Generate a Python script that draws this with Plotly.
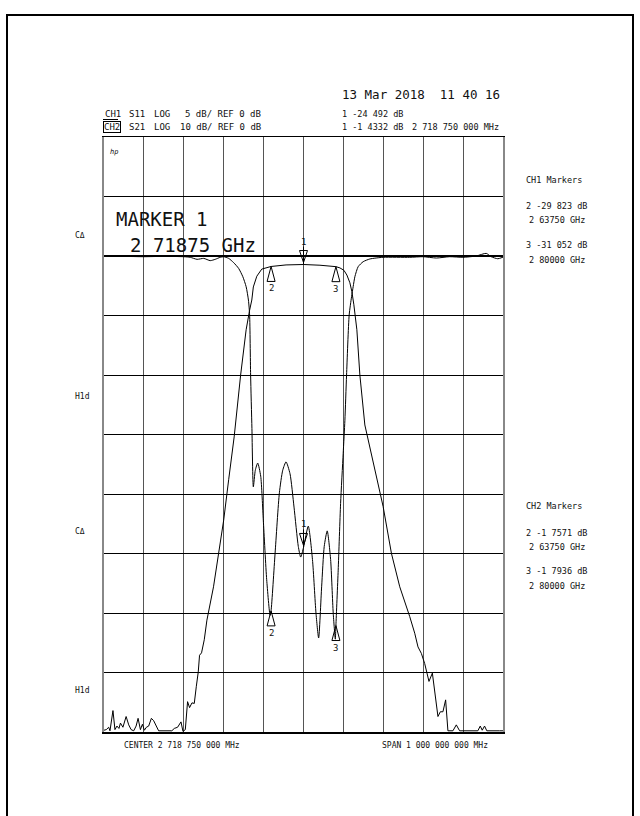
import plotly.graph_objects as go

# ---------------- data (GHz, dB) ----------------
# CH1: S11, LOG 5 dB/div, REF 0 dB
s11_freq = [2.21875, 2.2687, 2.3187, 2.3687, 2.4187, 2.4350, 2.4520, 2.4687, 2.4850, 2.4975,
            2.5100, 2.5187, 2.5312, 2.5437, 2.5562, 2.5667, 2.5750, 2.5807, 2.5837, 2.5862,
            2.5895, 2.5930, 2.5980, 2.6040, 2.6115, 2.6180, 2.6265, 2.6350, 2.6375, 2.6475,
            2.6583, 2.6667, 2.6750, 2.6850, 2.6950, 2.7057, 2.7117, 2.71875, 2.7307, 2.7412,
            2.7500, 2.7567, 2.7642, 2.7707, 2.7782, 2.7867, 2.7932, 2.7985, 2.8000, 2.8057,
            2.8117, 2.8182, 2.8225, 2.8267, 2.8332, 2.8392, 2.8432, 2.8475, 2.8557, 2.8683,
            2.8850, 2.9183, 2.9850, 3.0183, 3.0517, 3.0850, 3.1183, 3.1517, 3.1767, 3.1892,
            3.2057, 3.21875]
s11_db = [0.0, -0.03, -0.06, -0.03, -0.06, -0.11, -0.28, -0.20, -0.39, -0.28,
          -0.11, -0.06, -0.20, -0.56, -1.04, -1.74, -2.58, -3.70, -4.96, -10.0,
          -14.5, -19.4, -18.0, -17.4, -18.5, -22.2, -27.2, -30.2, -29.8, -25.0,
          -19.9, -18.0, -17.3, -18.3, -21.1, -24.4, -25.3, -24.5, -22.7, -25.5,
          -30.0, -32.1, -27.8, -24.4, -23.1, -25.5, -30.0, -32.2, -31.05, -26.4,
          -20.8, -16.6, -13.8, -10.0, -4.96, -3.42, -2.58, -1.74, -0.90, -0.48,
          -0.25, -0.11, -0.11, -0.06, -0.17, -0.06, -0.11, 0.0, 0.22, -0.06,
          -0.23, -0.10]

# CH2: S21, LOG 10 dB/div, REF 0 dB
s21_freq = [2.21875, 2.2245, 2.2305, 2.2337, 2.2412, 2.2462, 2.2512, 2.2562, 2.2600, 2.2662,
            2.2742, 2.2807, 2.2867, 2.2932, 2.2992, 2.3042, 2.3100, 2.3150, 2.3200, 2.3250,
            2.3307, 2.3375, 2.3432, 2.3500, 2.3557, 2.3887, 2.3950, 2.4032, 2.4117, 2.4167,
            2.4225, 2.4282, 2.4332, 2.4392, 2.4450, 2.4500, 2.4550, 2.4582, 2.4632, 2.4700,
            2.4767, 2.4932, 2.5057, 2.5187, 2.5312, 2.5450, 2.5612, 2.5750, 2.5837, 2.5892,
            2.5930, 2.6017, 2.6142, 2.6375, 2.6750, 2.71875, 2.7600, 2.8000, 2.8100, 2.8200,
            2.8275, 2.8350, 2.8400, 2.8450, 2.8525, 2.8600, 2.8725, 2.8850, 2.9017, 2.9183,
            2.9392, 2.9600, 2.9850, 2.9975, 3.0057, 3.0142, 3.0225, 3.0282, 3.0332, 3.0417,
            3.0475, 3.0557, 3.0617, 3.0682, 3.0750, 3.0807, 3.0932, 3.1017, 3.1100, 3.1557,
            3.1617, 3.1667, 3.1725, 3.1782, 3.2100, 3.21875]
s21_db = [-79.7, -79.6, -79.2, -79.8, -76.4, -79.6, -79.0, -79.4, -78.5, -79.2,
          -77.4, -78.8, -79.6, -79.8, -79.0, -77.7, -79.6, -78.7, -79.7, -79.2,
          -79.0, -77.7, -78.1, -79.2, -79.8, -79.8, -79.4, -79.2, -78.3, -79.9,
          -79.6, -74.9, -75.9, -75.1, -75.2, -72.4, -69.9, -67.1, -66.7, -64.5,
          -61.2, -55.6, -50.0, -44.4, -37.6, -30.4, -20.0, -12.4, -9.1, -7.4,
          -5.2, -3.4, -2.2, -1.76, -1.50, -1.43, -1.55, -1.79, -2.0, -2.4,
          -3.2, -4.5, -6.0, -8.2, -12.4, -20.0, -28.4, -32.0, -37.1, -42.1,
          -50.0, -55.6, -60.6, -63.4, -65.7, -66.8, -68.5, -69.9, -71.5, -70.1,
          -72.9, -77.4, -76.6, -76.6, -74.6, -79.8, -79.8, -78.8, -79.8, -79.8,
          -79.0, -79.7, -79.0, -79.8, -79.8, -79.8]

marker_ids = ["1", "2", "3"]
marker_freq = [2.71875, 2.6375, 2.8]
s11_marker_db = [-24.492, -29.823, -31.052]
s21_marker_db = [-1.4332, -1.7571, -1.7936]

center_ghz = 2.71875
span_ghz = 1.0

# ---------------- layout geometry ----------------
W, H = 640, 816
L, R, T, B = 104, 503, 137, 732
MONO = "DejaVu Sans Mono"
INK = "#111"


def px(xp):
    return (xp - L) / (R - L)


def py(yp):
    return (B - yp) / (B - T)


fig = go.Figure()
fig.add_trace(go.Scatter(x=s11_freq, y=s11_db, mode="lines", yaxis="y",
                         line=dict(color="black", width=1, shape="spline", smoothing=0.6),
                         hoverinfo="skip", showlegend=False))
fig.add_trace(go.Scatter(x=s21_freq, y=s21_db, mode="lines", yaxis="y2",
                         line=dict(color="black", width=1),
                         hoverinfo="skip", showlegend=False))

annotations = []
shapes = []


def text(xp, yp, s, size=9, anchor="left", **kw):
    annotations.append(dict(x=px(xp), y=py(yp), xref="paper", yref="paper", text=s,
                            showarrow=False, xanchor=anchor, yanchor="middle",
                            font=dict(family=MONO, size=size, color=INK), **kw))


# header
text(340, 94, "13 Mar 2018  11 40 16", size=12.5)
text(103, 114, "CH1", size=9)
shapes.append(dict(type="line", xref="paper", yref="paper", x0=px(103), x1=px(118),
                   y0=py(119.5), y1=py(119.5), line=dict(color="black", width=1)))
text(127, 114, "S11", size=9)
text(152, 114, "LOG", size=9)
text(263, 114, "5 dB/ REF 0 dB", size=9, anchor="right")
text(340, 114, "1 -24 492 dB", size=8.5)
text(103, 127, "CH2", size=9, bordercolor="black", borderwidth=1, borderpad=0)
text(127, 127, "S21", size=9)
text(152, 127, "LOG", size=9)
text(263, 127, "10 dB/ REF 0 dB", size=9, anchor="right")
text(340, 127, "1 -1 4332 dB", size=8.5)
text(501, 127, "2 718 750 000 MHz", size=8.5, anchor="right")

# hp logo
text(108, 152, "<i>hp</i>", size=7)

# big marker text
text(114, 219, "MARKER 1", size=19)
text(128, 245, "2 71875 GHz", size=19)

# left status labels
text(73, 236, "CΔ", size=8)
text(73, 396, "H1d", size=8)
text(73, 531, "CΔ", size=8)
text(73, 690, "H1d", size=8)

# right marker tables
text(524, 180, "CH1 Markers", size=8.5)
text(524, 206, "2 -29 823 dB", size=8.5)
text(527, 220, "2 63750 GHz", size=8.5)
text(524, 245, "3 -31 052 dB", size=8.5)
text(527, 260, "2 80000 GHz", size=8.5)
text(524, 506, "CH2 Markers", size=8.5)
text(524, 533, "2 -1 7571 dB", size=8.5)
text(527, 547, "2 63750 GHz", size=8.5)
text(524, 571, "3 -1 7936 dB", size=8.5)
text(527, 586, "2 80000 GHz", size=8.5)

# bottom labels
text(122, 745, "CENTER 2 718 750 000 MHz", size=8)
text(380, 745, "SPAN 1 000 000 000 MHz", size=8)

# outer frame
shapes.append(dict(type="rect", xref="paper", yref="paper", x0=px(7), x1=px(633),
                   y0=py(840), y1=py(15), line=dict(color="black", width=2),
                   fillcolor="rgba(0,0,0,0)", layer="above"))

# reference position triangles (0 dB)
x_lo = center_ghz - span_ghz / 2
x_hi = center_ghz + span_ghz / 2
shapes.append(dict(type="path", xref="x", yref="y", xsizemode="pixel", ysizemode="pixel",
                   xanchor=x_lo, yanchor=0, path="M -6 3 L -6 -3 L -1 0 Z",
                   line=dict(color="black", width=1)))
shapes.append(dict(type="path", xref="x", yref="y", xsizemode="pixel", ysizemode="pixel",
                   xanchor=x_hi, yanchor=0, path="M 6 3 L 6 -3 L 1 0 Z",
                   line=dict(color="black", width=1)))


def marker(mid, f, v, yref):
    if mid == "1":
        # pointing down, above the trace
        shapes.append(dict(type="path", xref="x", yref=yref, xsizemode="pixel", ysizemode="pixel",
                           xanchor=f, yanchor=v, path="M -4 14 L 4 14 L 0 2 Z M 0 0 L 0 18",
                           line=dict(color="black", width=1)))
        annotations.append(dict(x=f, y=v, xref="x", yref=yref, text=mid, showarrow=False,
                                yshift=23, xanchor="center", yanchor="middle",
                                font=dict(family=MONO, size=9, color=INK)))
    else:
        shapes.append(dict(type="path", xref="x", yref=yref, xsizemode="pixel", ysizemode="pixel",
                           xanchor=f, yanchor=v, path="M -4 -15 L 4 -15 L 0 0 Z",
                           line=dict(color="black", width=1)))
        annotations.append(dict(x=f, y=v, xref="x", yref=yref, text=mid, showarrow=False,
                                yshift=-22, xanchor="center", yanchor="middle",
                                font=dict(family=MONO, size=9, color=INK)))


for mid, f, v in zip(marker_ids, marker_freq, s21_marker_db):
    marker(mid, f, v, "y2")
for mid, f, v in zip(marker_ids, marker_freq, s11_marker_db):
    marker(mid, f, v, "y")

fig.update_layout(
    width=W, height=H,
    margin=dict(l=L, r=W - R, t=T, b=H - B, pad=0),
    paper_bgcolor="white", plot_bgcolor="white",
    showlegend=False,
    xaxis=dict(range=[x_lo, x_hi], tick0=x_lo, dtick=span_ghz / 10, showticklabels=False,
               ticks="", showgrid=True, gridcolor="#555", gridwidth=1, zeroline=False,
               showline=True, mirror=True, linecolor="black", linewidth=1.5),
    yaxis=dict(range=[-40, 10], dtick=5, showticklabels=False, ticks="",
               showgrid=True, gridcolor="black", gridwidth=1,
               zeroline=True, zerolinecolor="black", zerolinewidth=2,
               showline=True, mirror=True, linecolor="#888", linewidth=2),
    yaxis2=dict(range=[-80, 20], overlaying="y", showticklabels=False, ticks="",
                showgrid=False, zeroline=False, showline=False),
    annotations=annotations,
    shapes=shapes,
)

fig.write_html("out.html", config={"displayModeBar": False, "staticPlot": True},
               post_script="document.body.style.margin='0';document.body.style.overflow='hidden';")
